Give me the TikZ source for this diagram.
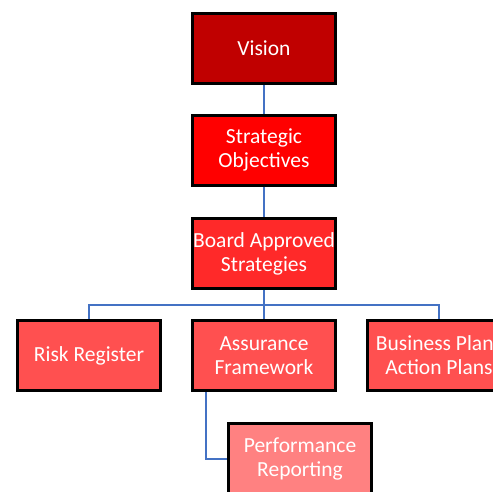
\documentclass[tikz,border=0pt]{standalone}
\usepackage{fontspec}
\setmainfont{Carlito}
\usetikzlibrary{calc}
\definecolor{visionred}{HTML}{C00000}
\definecolor{objred}{HTML}{FF0000}
\definecolor{boardred}{HTML}{FF2929}
\definecolor{rowred}{HTML}{FF5050}
\definecolor{perfred}{HTML}{FF8181}
\definecolor{linkblue}{HTML}{4472C4}
\begin{document}
\begin{tikzpicture}[x=1pt,y=-1pt,
  box/.style={draw=black,line width=3pt,minimum width=143pt,minimum height=70pt,
    inner sep=0pt,align=center,text=white,
    font=\fontsize{21.5}{24}\selectfont},
  conn/.style={draw=linkblue,line width=2pt}]
\useasboundingbox (0,0) rectangle (493,491);
\clip (0,0) rectangle (493,491);
% hierarchy boxes
\node[box,fill=visionred] (vision) at (264,48.5) {Vision};
\node[box,fill=objred] (obj) at (264,150) {Strategic\\Objectives};
\node[box,fill=boardred] (board) at (264,253.5) {Board Approved\\Strategies};
\node[box,fill=rowred] (risk) at (89,355.5) {Risk Register};
\node[box,fill=rowred] (assur) at (264,355.5) {Assurance\\Framework};
\node[box,fill=rowred] (biz) at (439,355.5) {Business Plans\\Action Plans};
\node[box,fill=perfred] (perf) at (300,458.5) {Performance\\Reporting};
% connectors
\draw[conn] (vision.south) -- (obj.north);
\draw[conn] (obj.south) -- (board.north);
\coordinate (bar) at ($(board.south)!0.5!(assur.north)$);
\draw[conn] (board.south) -- (assur.north);
\draw[conn] (risk.north) |- (bar) -| (biz.north);
\draw[conn] ([xshift=15pt]assur.south west) |- (perf.west);
\end{tikzpicture}
\end{document}
